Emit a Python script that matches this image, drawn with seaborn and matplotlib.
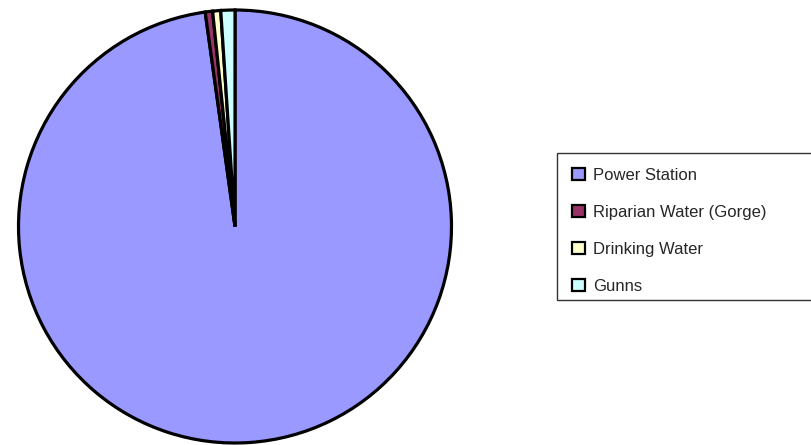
import matplotlib
matplotlib.use("Agg")
import matplotlib.pyplot as plt
from matplotlib.patches import Patch, Rectangle
import seaborn as sns

categories = ["Power Station", "Riparian Water (Gorge)", "Drinking Water", "Gunns"]
values = [97.8, 0.55, 0.6, 1.05]
colors = ["#9999FF", "#993366", "#FFFFCC", "#CCFFFF"]

sns.set_theme(style="white")
plt.rcParams['font.family'] = ['Liberation Sans', 'DejaVu Sans']

W, H = 811, 445
fig = plt.figure(figsize=(W / 100, H / 100), dpi=100)
cx, cy, r = 235, 226.5, 216.5
lim = 1.05
half = r * lim
ax = fig.add_axes([(cx - half) / W, (H - cy - half) / H, 2 * half / W, 2 * half / H])
palette = sns.color_palette(colors)
wedges, _ = ax.pie(values, colors=palette, startangle=90, counterclock=False,
                   radius=1, wedgeprops=dict(edgecolor="black", linewidth=2.3))
ax.set_xlim(-lim, lim)
ax.set_ylim(-lim, lim)
ax.set_aspect("equal")
ax.axis("off")

# legend frame
fx0, fy_top, fx1, fy_bot = 557, 153, 820, 300
fig.patches.append(Rectangle((fx0 / W, 1 - fy_bot / H), (fx1 - fx0) / W,
                             (fy_bot - fy_top) / H, transform=fig.transFigure,
                             facecolor="white", edgecolor="#333333",
                             linewidth=1.0, zorder=0))

handles = [Patch(facecolor=c, edgecolor="black", linewidth=1.6) for c in palette]
leg = fig.legend(handles, categories, loc="upper left",
                 bbox_to_anchor=(fx0 / W, 1 - fy_top / H),
                 frameon=False, fontsize=12,
                 handlelength=0.75, handleheight=0.75, handletextpad=0.5,
                 labelspacing=1.32, borderpad=0.9, borderaxespad=0)

fig.savefig("out.png", dpi=100)
